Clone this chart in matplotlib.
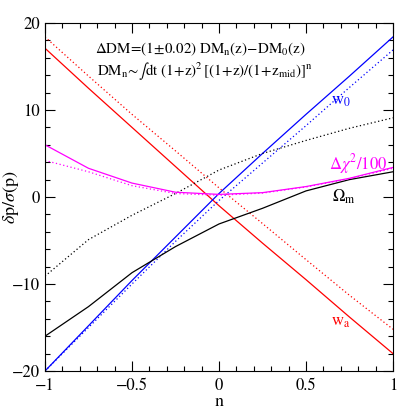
import numpy as np
import matplotlib
matplotlib.use('Agg')
import matplotlib.pyplot as plt
from matplotlib.ticker import MultipleLocator

plt.rcParams['font.family'] = 'STIXGeneral'
plt.rcParams['mathtext.fontset'] = 'stix'

# values, at n = -1, -0.75, ..., 1
n = [-1.0, -0.75, -0.5, -0.25, 0.0, 0.25, 0.5, 0.75, 1.0]

wa_solid = [17.1, 12.5, 8.0, 3.5, -1.0, -5.3, -9.5, -13.8, -18.0]
wa_dot = [18.4, 13.9, 9.5, 5.3, 1.05, -3.05, -7.2, -11.3, -15.2]
w0_solid = [-20.0, -14.8, -9.6, -4.6, 0.4, 5.0, 9.5, 13.9, 18.4]
w0_dot = [-20.0, -15.0, -10.0, -5.1, -0.4, 3.9, 8.2, 12.6, 16.9]
om_solid = [-16.0, -12.6, -8.7, -5.7, -3.1, -1.3, 0.7, 2.0, 2.9]
om_dot = [-9.1, -4.9, -2.1, 0.4, 3.1, 5.0, 6.5, 7.9, 9.1]
chi_solid = [6.0, 3.3, 1.6, 0.55, 0.3, 0.5, 1.2, 2.15, 3.4]
chi_dot = [4.2, 2.9, 1.3, 0.4, 0.2, 0.45, 1.15, 2.1, 3.3]

dots = (0, (1, 2))

fig = plt.figure(figsize=(4.15, 4.15), dpi=100)
ax = fig.add_axes([0.1084, 0.106, 0.8386, 0.8386])

ax.plot(n, wa_solid, color='#ff0000', lw=0.9)
ax.plot(n, wa_dot, color='#ff0000', lw=0.9, ls=dots)
ax.plot(n, w0_solid, color='#0000ff', lw=0.9)
ax.plot(n, w0_dot, color='#0000ff', lw=0.9, ls=dots)
ax.plot(n, om_solid, color='black', lw=0.9)
ax.plot(n, om_dot, color='black', lw=0.9, ls=dots)
ax.plot(n, chi_solid, color='#ff00ff', lw=0.9)
ax.plot(n, chi_dot, color='#ff00ff', lw=0.9, ls=dots)

ax.set_xlim(-1, 1)
ax.set_ylim(-20, 20)
ax.xaxis.set_major_locator(MultipleLocator(0.5))
ax.xaxis.set_minor_locator(MultipleLocator(0.1))
ax.yaxis.set_major_locator(MultipleLocator(10))
ax.yaxis.set_minor_locator(MultipleLocator(2))
ax.tick_params(which='both', direction='in', top=True, right=True, labelsize=12)
ax.tick_params(which='major', length=7, width=0.8)
ax.tick_params(which='minor', length=3.5, width=0.8)
fmt = plt.FuncFormatter(lambda v, p: ('%g' % v).replace('-', '\u2212') if v != 0 else '0')
ax.xaxis.set_major_formatter(fmt)
ax.yaxis.set_major_formatter(fmt)
ax.tick_params(axis='x', pad=5)

ax.set_xlabel('n', fontsize=13, labelpad=0)
ax.set_ylabel(r'$\delta\mathrm{p}/\sigma(\mathrm{p})$', fontsize=13)
ax.yaxis.set_label_coords(-0.068, 0.5)

ax.text(-0.715, 17.0, r'$\Delta\mathrm{DM}\!=\!(1\!\pm\!0.02)\ \mathrm{DM_n(z)}\!-\!\mathrm{DM_0(z)}$',
        fontsize=10.8, va='center')
ax.text(-0.70, 14.5, r'$\mathrm{DM_n}\!\sim\!\int\mathrm{dt}\ (1\!+\!\mathrm{z})^2\,[(1\!+\!\mathrm{z})/(1\!+\!\mathrm{z_{mid}})]^\mathrm{n}$',
        fontsize=10.8, va='center')

ax.text(0.70, 11.0, r'$\mathrm{w_0}$', color='#0000ff', fontsize=12, ha='center', va='center')
ax.text(0.97, 3.8, r'$\Delta\chi^2/100$', color='#ff00ff', fontsize=12, ha='right', va='center')
ax.text(0.72, 0.0, r'$\Omega_\mathrm{m}$', color='black', fontsize=12, ha='center', va='center')
ax.text(0.70, -14.4, r'$\mathrm{w_a}$', color='#ff0000', fontsize=12, ha='center', va='center')

fig.savefig('out.png', dpi=100)
